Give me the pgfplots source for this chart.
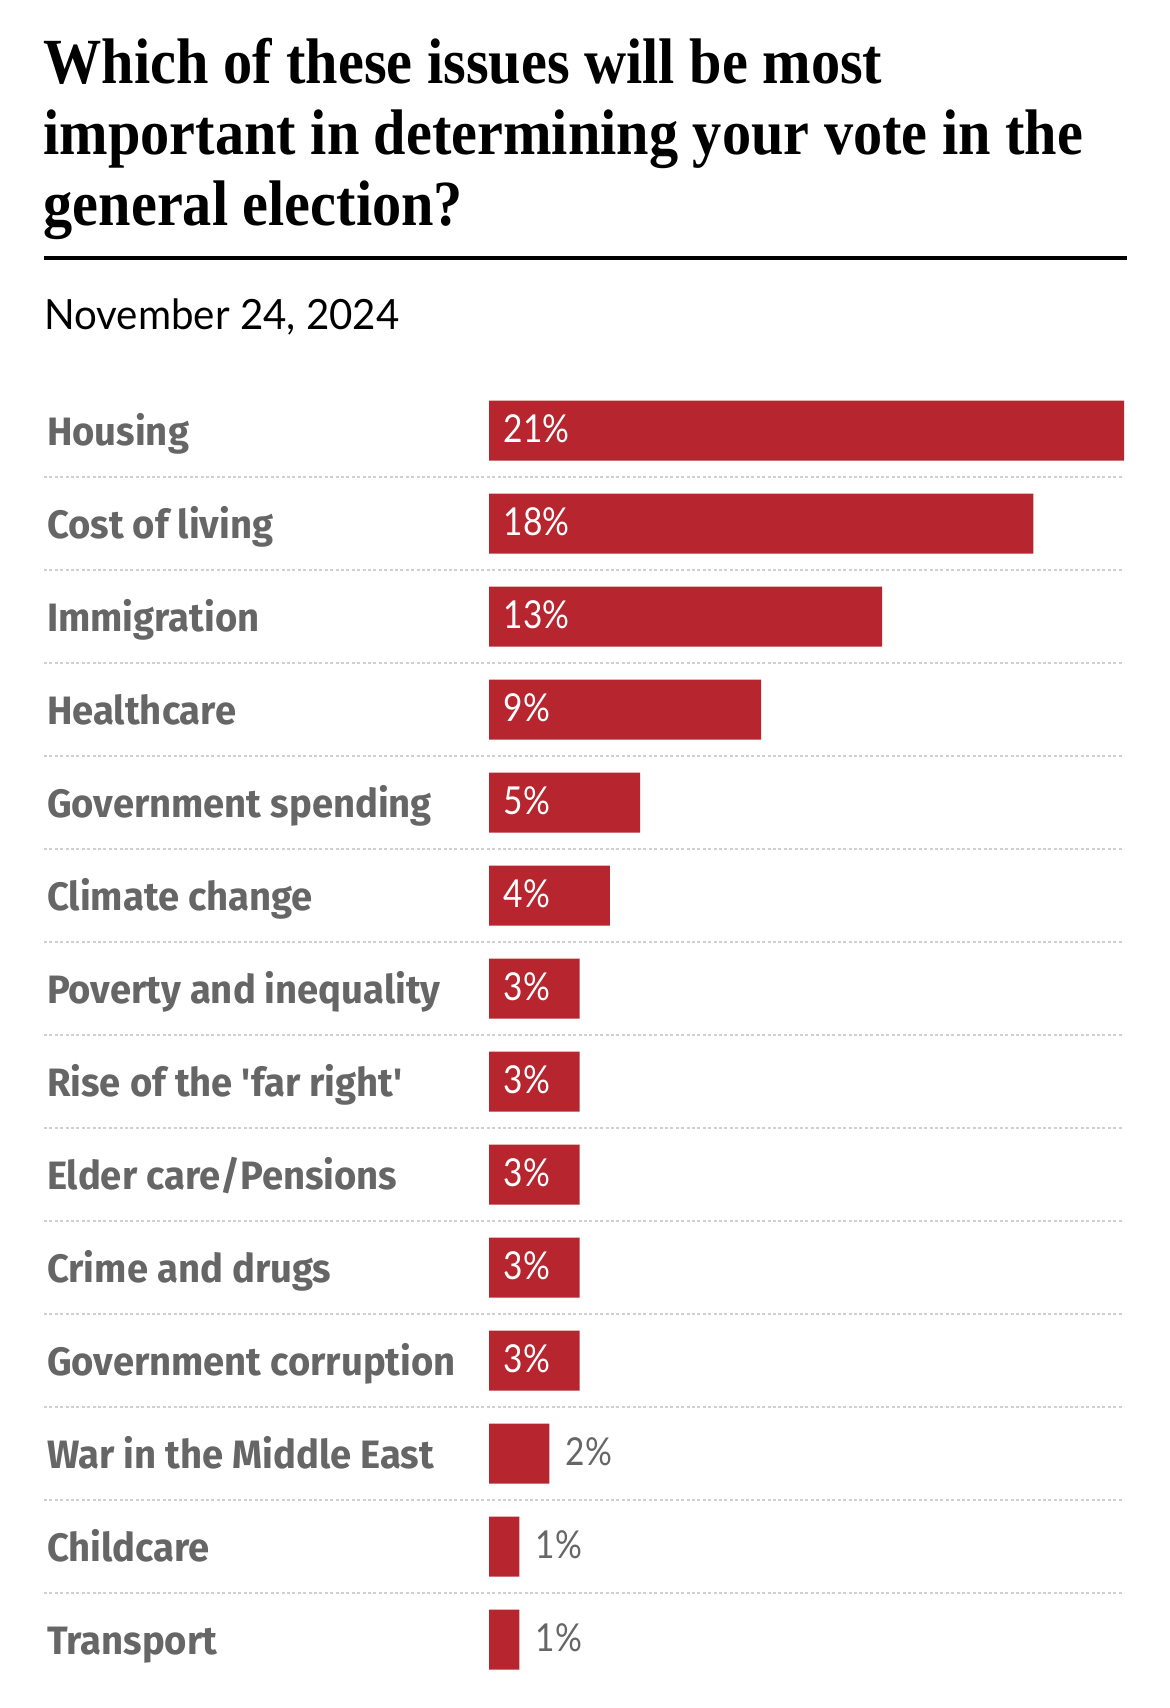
\documentclass[border=0pt]{standalone}
\usepackage{fontspec}
\usepackage{pgfplots}
\usepackage{pgfplotstable}
\pgfplotsset{compat=1.18}
\newfontfamily\titlefont{Liberation Serif}[FakeStretch=0.905]
\newfontfamily\datefont{Lato}[FakeStretch=0.965]
\newfontfamily\labfont{Fira Sans}[FakeStretch=0.965]
\newfontfamily\valfont{Lato}[FakeStretch=0.87]
\definecolor{barred}{HTML}{B7252F}
\definecolor{labgray}{HTML}{666666}
\definecolor{dotgray}{HTML}{D0D0D0}

\pgfplotstableread{
idx val
0 21
1 18
2 13
3 9
4 5
5 4
6 3
7 3
8 3
9 3
10 3
11 2
12 1
13 1
}\datatable

\begin{document}
\begin{tikzpicture}
\path[use as bounding box] (0,0) rectangle (585pt,-854pt);
\fill[white] (0,0) rectangle (585pt,-854pt);
\node[anchor=base west, inner sep=0pt] at (21.65pt,-41.75pt) {\titlefont\bfseries\fontsize{32.2pt}{36pt}\selectfont Which of these issues will be most};
\node[anchor=base west, inner sep=0pt] at (21.65pt,-77.25pt) {\titlefont\bfseries\fontsize{32.2pt}{36pt}\selectfont important in determining your vote in the};
\node[anchor=base west, inner sep=0pt] at (21.65pt,-112.75pt) {\titlefont\bfseries\fontsize{32.2pt}{36pt}\selectfont general election?};
\draw[line width=1.65pt] (22pt,-129pt) -- (563.5pt,-129pt);
\node[anchor=base west, inner sep=0pt] at (22pt,-164.65pt) {\datefont\fontsize{20.85pt}{24pt}\selectfont November 24, 2024};
\begin{axis}[
  at={(22pt,-192pt)}, anchor=north west,
  scale only axis, width=540pt, height=651pt,
  xmin=-14.717, xmax=21, ymin=-0.5, ymax=13.5, y dir=reverse,
  axis line style={draw=none},
  xtick=\empty,
  ytick={0,...,13},
  yticklabels={Housing, Cost of living, Immigration, Healthcare, Government spending, Climate change, Poverty and inequality, Rise of the \textquotesingle far right\textquotesingle, Elder care/Pensions, Crime and drugs, Government corruption, War in the Middle East, Childcare, Transport},
  major tick length=0pt, minor tick length=0pt,
  minor ytick={0.5,1.5,...,12.5},
  yminorgrids=true,
  minor grid style={dotgray, line width=1.3pt, dash pattern=on 1.5pt off 1.2pt},
  yticklabel style={font=\labfont\bfseries\fontsize{19.8pt}{22pt}\selectfont, text=labgray, anchor=base west, inner sep=0pt, xshift=1.35pt, yshift=-7.65pt},
  clip=false,
]
\addplot[xbar, bar width=30pt, fill=barred, draw=none] table[x=val, y=idx] {\datatable};
\addplot[draw=none, mark=none, nodes near coords={\pgfplotspointmeta\%}, point meta=explicit symbolic,
  skip coords between index={11}{14},
  every node near coord/.append style={anchor=base west, inner sep=0pt, xshift=7.15pt, yshift=-6.2pt, text=white, font=\valfont\fontsize{19.25pt}{22pt}\selectfont}]
  table[x expr=0, y=idx, meta=val] {\datatable};
\addplot[draw=none, mark=none, nodes near coords={\pgfplotspointmeta\%}, point meta=explicit symbolic,
  skip coords between index={0}{11},
  every node near coord/.append style={anchor=base west, inner sep=0pt, xshift=8pt, yshift=-6.2pt, text=labgray, font=\valfont\fontsize{19.25pt}{22pt}\selectfont}]
  table[x=val, y=idx, meta=val] {\datatable};
\end{axis}
\end{tikzpicture}
\end{document}
